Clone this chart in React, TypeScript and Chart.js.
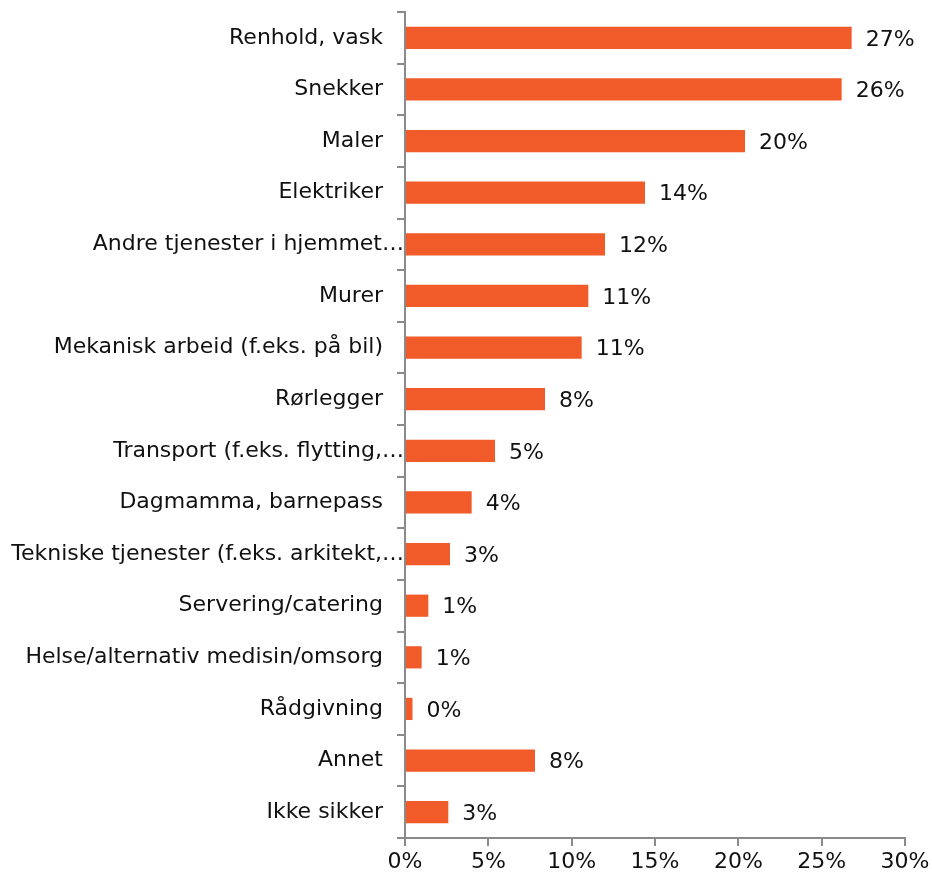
import React, { useEffect, useRef } from "react";
import { Chart, registerables } from "chart.js";

Chart.register(...registerables);

const categories: string[] = [
  "Renhold, vask",
  "Snekker",
  "Maler",
  "Elektriker",
  "Andre tjenester i hjemmet…",
  "Murer",
  "Mekanisk arbeid (f.eks. på bil)",
  "Rørlegger",
  "Transport (f.eks. flytting,…",
  "Dagmamma, barnepass",
  "Tekniske tjenester (f.eks. arkitekt,…",
  "Servering/catering",
  "Helse/alternativ medisin/omsorg",
  "Rådgivning",
  "Annet",
  "Ikke sikker",
];

const values: number[] = [
  26.8, 26.2, 20.4, 14.4, 12.0, 11.0, 10.6, 8.4, 5.4, 4.0, 2.7, 1.4, 1.0, 0.45, 7.8, 2.6,
];

const xTicks: number[] = [0, 5, 10, 15, 20, 25, 30];

const FONT = "'DejaVu Sans', sans-serif";
const BAR = "#F15A29";
const AXIS = "#8A8A8A";
const TEXT = "#111111";

const valueLabels = {
  id: "valueLabels",
  afterDatasetsDraw(chart: any) {
    const ctx = chart.ctx;
    const meta = chart.getDatasetMeta(0);
    ctx.save();
    ctx.font = `22px ${FONT}`;
    ctx.fillStyle = TEXT;
    ctx.textAlign = "left";
    ctx.textBaseline = "middle";
    meta.data.forEach((el: any, i: number) => {
      const v = chart.data.datasets[0].data[i] as number;
      ctx.fillText(Math.round(v) + "%", el.x + 14, el.y + 2);
    });
    ctx.restore();
  },
};

// Category labels: full labels end 22px left of the axis; truncated ones
// (ending in an ellipsis) run right up to the axis, as in the source chart.
const categoryLabels = {
  id: "categoryLabels",
  afterDraw(chart: any) {
    const ctx = chart.ctx;
    const yScale = chart.scales.y;
    const axisX = chart.chartArea.left;
    ctx.save();
    ctx.font = `22px ${FONT}`;
    ctx.fillStyle = TEXT;
    ctx.textAlign = "right";
    ctx.textBaseline = "middle";
    (chart.data.labels as string[]).forEach((lab: string, i: number) => {
      const y = yScale.getPixelForValue(i);
      const x = lab.endsWith("…") ? axisX - 1 : axisX - 22;
      ctx.fillText(lab, x, y);
    });
    ctx.restore();
  },
};

export default function App() {
  const ref = useRef<HTMLCanvasElement | null>(null);
  useEffect(() => {
    document.body.style.margin = "0";
    if (!ref.current) return;
    const chart = new Chart(ref.current, {
      type: "bar",
      data: {
        labels: categories,
        datasets: [
          {
            data: values,
            backgroundColor: BAR,
            categoryPercentage: 1,
            barPercentage: 0.43,
          },
        ],
      },
      options: {
        indexAxis: "y",
        animation: false,
        responsive: false,
        maintainAspectRatio: false,
        layout: { padding: { top: 12, right: 27, left: 0, bottom: 0 } },
        plugins: { legend: { display: false }, tooltip: { enabled: false } },
        scales: {
          x: {
            min: 0,
            max: 30,
            afterBuildTicks: (scale: any) => {
              scale.ticks = xTicks.map((v) => ({ value: v }));
            },
            afterFit: (scale: any) => {
              scale.height = 43;
              scale.paddingLeft = 0;
              scale.paddingRight = 0;
            },
            border: { color: AXIS, width: 2 },
            grid: {
              drawOnChartArea: false,
              drawTicks: true,
              tickLength: 8,
              color: AXIS,
              lineWidth: 2,
            },
            ticks: {
              padding: 3,
              color: TEXT,
              font: { family: FONT, size: 22 },
              maxRotation: 0,
              callback: (v: any) => v + "%",
            },
          },
          y: {
            afterFit: (scale: any) => {
              scale.width = 405;
              scale.paddingTop = 0;
              scale.paddingBottom = 0;
            },
            border: { color: AXIS, width: 2 },
            grid: {
              drawOnChartArea: false,
              drawTicks: true,
              tickLength: 8,
              color: AXIS,
              lineWidth: 2,
              offset: true,
            },
            ticks: {
              display: false,
              autoSkip: false,
            },
          },
        },
      },
      plugins: [valueLabels, categoryLabels],
    });
    return () => chart.destroy();
  }, []);
  return (
    <div style={{ width: 932, height: 881 }}>
      <canvas ref={ref} width={932} height={881} style={{ display: "block" }} />
    </div>
  );
}
